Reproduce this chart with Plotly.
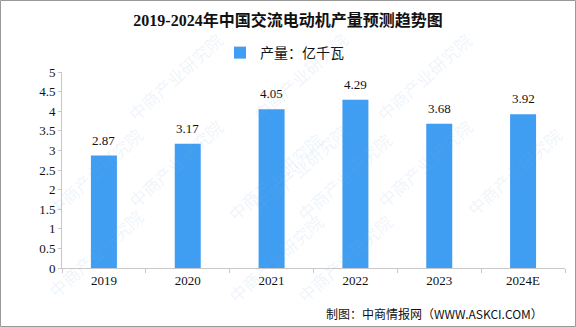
import plotly.graph_objects as go

# Annual AC motor output (100 million kW), 2024 is a forecast
years = ["2019", "2020", "2021", "2022", "2023", "2024E"]
output = [2.87, 3.17, 4.05, 4.29, 3.68, 3.92]
y_ticks = [0, 0.5, 1, 1.5, 2, 2.5, 3, 3.5, 4, 4.5, 5]

W, H = 576, 327
L, R, T, B = 62, 11, 72, 59
pw, ph = W - L - R, H - T - B

def px_x(px):
    return (px - L) / pw

def px_y(py):
    return (H - B - py) / ph

FONT = "Liberation Serif, Noto Sans CJK SC, serif"
CJK = "Noto Sans CJK SC, sans-serif"

fig = go.Figure()
fig.add_trace(go.Bar(
    x=years, y=output, name="产量：亿千瓦",
    marker=dict(color="#3F9DF2", line=dict(width=0)),
    width=0.31,
))

# value labels above each bar (category index on the x axis)
for i, v in enumerate(output):
    fig.add_annotation(x=i, y=v, text=f"{v:.2f}", showarrow=False,
                       yanchor="bottom", yshift=6,
                       font=dict(family=FONT, size=13, color="#111111"))

# light diagonal watermark
wm_positions = [(120, 25), (300, 25), (480, 25), (40, 120), (220, 125), (400, 125), (570, 120),
                (120, 215), (300, 220), (480, 215), (40, 305), (220, 310), (400, 310)]
for (wx, wy) in wm_positions:
    fig.add_annotation(x=px_x(wx), y=px_y(wy), xref="paper", yref="paper",
                       text="中商产业研究院", showarrow=False, textangle=-42,
                       font=dict(family=CJK, size=17, color="rgba(130,180,225,0.14)"))

fig.add_annotation(text="制图：中商情报网（WWW.ASKCI.COM）", x=px_x(545), y=px_y(313),
                   xref="paper", yref="paper", xanchor="right", yanchor="middle", showarrow=False,
                   font=dict(family=CJK, size=12, color="#111111"))

fig.update_layout(
    width=W, height=H,
    margin=dict(l=L, r=R, t=T, b=B),
    paper_bgcolor="white", plot_bgcolor="white",
    bargap=0.69,
    showlegend=True,
    legend=dict(orientation="h", x=px_x(220), xanchor="left", y=px_y(53), yanchor="middle",
                font=dict(family=CJK, size=14, color="#111111"),
                itemwidth=30, bgcolor="rgba(0,0,0,0)"),
    title=dict(text="<b>2019-2024年中国交流电动机产量预测趋势图</b>",
               x=0.5, xanchor="center", y=1 - 20 / H, yanchor="middle",
               font=dict(family=FONT, size=16, color="#111111")),
    xaxis=dict(type="category", categoryorder="array", categoryarray=years,
               range=[-0.5, len(years) - 0.5],
               showline=True, linecolor="#C8C8C8", linewidth=1, ticks="outside",
               tickson="boundaries", ticklen=4, tickcolor="#C8C8C8",
               tickfont=dict(family=FONT, size=13, color="#111111"), showgrid=False),
    yaxis=dict(range=[0, 5], tickvals=y_ticks, ticktext=[str(t) for t in y_ticks],
               showline=True, linecolor="#C8C8C8", linewidth=1, ticks="outside",
               ticklen=3, tickcolor="#C8C8C8", showgrid=False, zeroline=False,
               tickfont=dict(family=FONT, size=13, color="#111111")),
    shapes=[dict(type="rect", xref="paper", yref="paper",
                 x0=px_x(0.5), x1=px_x(575.5), y0=px_y(326.5), y1=px_y(0.5),
                 line=dict(color="#999999", width=1), fillcolor="rgba(0,0,0,0)", layer="below")],
)

fig.write_html("out.html")
